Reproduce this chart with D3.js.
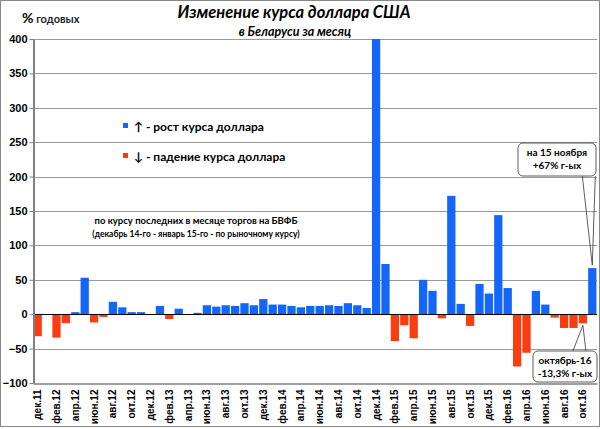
<!DOCTYPE html>
<html>
<head>
<meta charset="utf-8">
<title>Изменение курса доллара США</title>
<style>
  body { margin: 0; background: #fff; }
  svg { font-family: Lato, 'Open Sans', sans-serif; }
  .grid line { stroke: #9a9a9a; stroke-width: 1px; }
  .axis path, .axis line { stroke: #808080; }
  .axis text { fill: #000; font-weight: bold; }
  .up { fill: #1466f8; }
  .down { fill: #fa3c12; }
</style>
</head>
<body>
<script src="https://d3js.org/d3.v7.min.js"></script>
<script>
  'use strict';

  // месяцы дек.11 .. ноя.16
  const months = [
    'дек.11', 'янв.12', 'фев.12', 'мар.12', 'апр.12', 'май.12', 'июн.12', 'июл.12', 'авг.12', 'сен.12', 'окт.12', 'ноя.12',
    'дек.12', 'янв.13', 'фев.13', 'мар.13', 'апр.13', 'май.13', 'июн.13', 'июл.13', 'авг.13', 'сен.13', 'окт.13', 'ноя.13',
    'дек.13', 'янв.14', 'фев.14', 'мар.14', 'апр.14', 'май.14', 'июн.14', 'июл.14', 'авг.14', 'сен.14', 'окт.14', 'ноя.14',
    'дек.14', 'янв.15', 'фев.15', 'мар.15', 'апр.15', 'май.15', 'июн.15', 'июл.15', 'авг.15', 'сен.15', 'окт.15', 'ноя.15',
    'дек.15', 'янв.16', 'фев.16', 'мар.16', 'апр.16', 'май.16', 'июн.16', 'июл.16', 'авг.16', 'сен.16', 'окт.16', 'ноя.16'
  ];

  // % годовых
  const values = [
    -32, 0, -34, -13, 3, 53, -12, -4, 18, 10, 3, 3,
    0, 12, -7, 8, 0, 2, 13, 11, 13, 12, 16, 13,
    22, 14, 14, 12, 10, 12, 12, 13, 12, 16, 13, 9,
    400, 73, -39, -16, -35, 50, 34, -6, 172, 15, -17, 44,
    30, 144, 38, -76, -56, 34, 14, -5, -20, -20, -13.3, 67
  ];

  const yTicks = [-100, -50, 0, 50, 100, 150, 200, 250, 300, 350, 400];

  const W = 600, H = 429;
  const m = {left: 33, right: 597, top: 39, bottom: 383};

  const svg = d3.select('body').append('svg')
    .attr('width', W)
    .attr('height', H);

  // рамка
  svg.append('rect')
    .attr('x', 0.5).attr('y', 0.5)
    .attr('width', W - 1).attr('height', H - 3)
    .attr('fill', 'none')
    .attr('stroke', '#888');

  const x = d3.scaleBand().domain(months).range([m.left, m.right]).paddingInner(0.12).paddingOuter(0.06);
  const y = d3.scaleLinear().domain([-100, 400]).range([m.bottom, m.top]);

  // сетка
  svg.append('g')
    .attr('class', 'grid')
    .selectAll('line')
    .data(yTicks.filter(function(d) {return d !== -100 && d !== 0;}))
    .enter().append('line')
    .attr('x1', m.left).attr('x2', m.right)
    .attr('y1', function(d) {return Math.round(y(d)) + 0.5;})
    .attr('y2', function(d) {return Math.round(y(d)) + 0.5;});

  // столбики
  svg.append('g')
    .selectAll('rect')
    .data(values)
    .enter().append('rect')
    .attr('class', function(d) {return d >= 0 ? 'up' : 'down';})
    .attr('x', function(d, i) {return x(months[i]);})
    .attr('width', x.bandwidth())
    .attr('y', function(d) {return y(Math.max(0, d));})
    .attr('height', function(d) {return Math.abs(y(d) - y(0));});

  // нулевая линия
  svg.append('line')
    .attr('x1', m.left).attr('x2', m.right)
    .attr('y1', Math.round(y(0)) + 0.5).attr('y2', Math.round(y(0)) + 0.5)
    .attr('stroke', '#000').attr('stroke-width', 1);

  // ось Y
  const yAxis = svg.append('g')
    .attr('class', 'axis')
    .attr('transform', 'translate(' + (m.left + 0.5) + ',0)')
    .call(d3.axisLeft(y).tickValues(yTicks).tickSize(4).tickSizeOuter(0));
  yAxis.select('.domain').attr('stroke-width', 2);
  yAxis.selectAll('text').attr('font-size', '11px').attr('x', -6);

  // ось X
  const xAxis = svg.append('g')
    .attr('class', 'axis')
    .attr('transform', 'translate(0,' + (m.bottom + 0.5) + ')')
    .call(d3.axisBottom(x).tickValues(months.filter(function(d, i) {return i % 2 === 0;})).tickSize(0).tickSizeOuter(0));
  xAxis.select('.domain').attr('stroke-width', 1.5);
  xAxis.selectAll('text')
    .attr('font-size', '10px')
    .attr('transform', 'rotate(-90)')
    .attr('text-anchor', 'end')
    .attr('dy', '0.35em')
    .attr('x', -6)
    .attr('y', 0);

  // заголовки
  svg.append('text')
    .attr('x', 294).attr('y', 18)
    .attr('text-anchor', 'middle')
    .attr('font-size', '16.5px')
    .attr('font-weight', 'bold')
    .attr('font-style', 'italic')
    .text('Изменение курса доллара США');

  svg.append('text')
    .attr('x', 295).attr('y', 36)
    .attr('text-anchor', 'middle')
    .attr('font-size', '12.5px')
    .attr('font-weight', 'bold')
    .attr('font-style', 'italic')
    .text('в Беларуси за месяц');

  const unit = svg.append('text')
    .attr('x', 22).attr('y', 23)
    .attr('font-weight', 'bold');
  unit.append('tspan').attr('font-size', '14px').text('%');
  unit.append('tspan').attr('font-size', '11px').attr('fill', '#222').text(' годовых');

  // легенда
  const legend = [
    {cls: 'up', label: '↑ - рост курса доллара', y: 127},
    {cls: 'down', label: '↓ - падение курса доллара', y: 157}
  ];
  legend.forEach(function(l) {
    svg.append('rect')
      .attr('class', l.cls)
      .attr('x', 123).attr('y', l.y - 4)
      .attr('width', 5).attr('height', 5);
    svg.append('text')
      .attr('x', 134).attr('y', l.y + 4)
      .attr('font-size', '12px')
      .attr('font-weight', 'bold')
      .text(l.label);
  });

  // пояснение
  svg.append('text')
    .attr('x', 196).attr('y', 224)
    .attr('text-anchor', 'middle')
    .attr('font-weight', 'bold')
    .attr('font-size', '9.5px')
    .text('по курсу последних в месяце торгов  на БВФБ');
  svg.append('text')
    .attr('x', 196).attr('y', 237)
    .attr('text-anchor', 'middle')
    .attr('font-weight', 'bold')
    .attr('font-size', '8.5px')
    .text('(декабрь 14-го - январь 15-го - по рыночному курсу)');

  // выноски
  function callout(cx, boxTop, boxW, boxH, lines, tipIdx, fromTop) {
    const v = values[tipIdx];
    const tx = x(months[tipIdx]) + x.bandwidth() / 2;
    const ty = v >= 0 ? y(v) - 3 : y(v) + 2;
    const bx = cx - boxW / 2;
    const g = svg.append('g');
    const edge = fromTop ? boxTop : boxTop + boxH;
    const a1 = tx - 10, a2 = tx + 3;
    g.append('path')
      .attr('d', 'M' + a1 + ',' + edge + 'L' + tx + ',' + ty + 'L' + a2 + ',' + edge)
      .attr('fill', 'none')
      .attr('stroke', '#333')
      .attr('stroke-width', 0.8);
    g.append('rect')
      .attr('x', bx).attr('y', boxTop)
      .attr('width', boxW).attr('height', boxH)
      .attr('rx', 5)
      .attr('fill', '#fff')
      .attr('stroke', '#333')
      .attr('stroke-width', 0.8);
    lines.forEach(function(t, i) {
      g.append('text')
        .attr('x', cx).attr('y', boxTop + 13 + i * 13)
        .attr('text-anchor', 'middle')
        .attr('font-size', '10px')
        .attr('font-weight', 'bold')
        .text(t);
    });
  }

  callout(557, 143, 78, 33, ['на 15 ноября', '+67% г-ых'], 59, false);
  callout(565, 351, 64, 31, ['октябрь-16', '-13,3% г-ых'], 58, true);
</script>
</body>
</html>
